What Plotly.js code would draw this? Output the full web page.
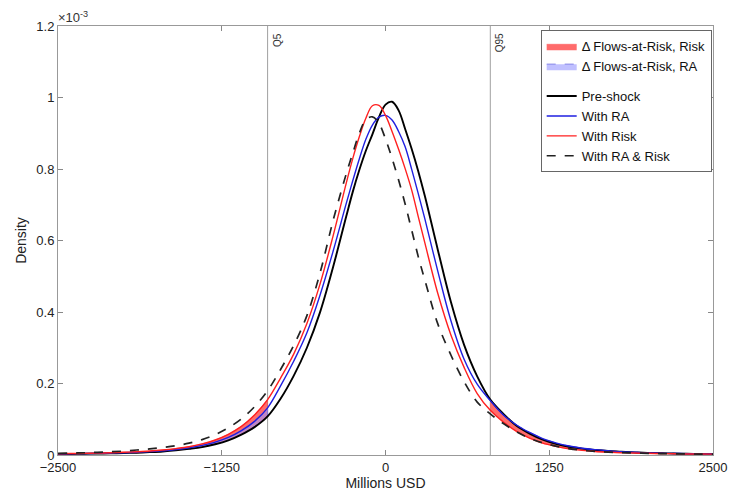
<!DOCTYPE html>
<html>
<head>
<meta charset="utf-8">
<script src="https://cdn.plot.ly/plotly-3.0.1.min.js"></script>
<style>html,body{margin:0;padding:0;background:#fff;}#chart{width:730px;height:502px;}</style>
</head>
<body>
<div id="chart"></div>
<script>
// x grid (Millions USD)
const xVals = [-2500,-2400,-2300,-2200,-2100,-2000,-1900,-1800,-1700,-1600,-1500,-1400,-1300,-1200,-1100,-1000,-900,-800,-700,-600,-500,-400,-300,-250,-200,-150,-100,-50,0,50,100,150,200,250,300,400,500,600,700,800,900,1000,1100,1200,1300,1400,1500,1600,1700,1800,1900,2000,2100,2200,2300,2400,2500];
// densities (x 1e-3)
const preShock = [0.0027,0.003,0.0035,0.004,0.0047,0.0055,0.0065,0.008,0.010,0.013,0.017,0.022,0.030,0.041,0.057,0.078,0.108,0.158,0.222,0.300,0.399,0.526,0.667,0.736,0.797,0.851,0.897,0.945,0.980,0.988,0.964,0.912,0.856,0.794,0.725,0.573,0.427,0.308,0.220,0.155,0.115,0.082,0.060,0.043,0.031,0.023,0.018,0.014,0.011,0.009,0.007,0.006,0.005,0.004,0.0035,0.003,0.0025];
const withRA = [0.003,0.0035,0.004,0.0047,0.0055,0.0065,0.0078,0.0095,0.012,0.015,0.020,0.027,0.036,0.049,0.068,0.094,0.132,0.194,0.263,0.342,0.447,0.570,0.703,0.767,0.828,0.883,0.923,0.945,0.950,0.937,0.905,0.862,0.799,0.731,0.661,0.513,0.375,0.268,0.198,0.152,0.112,0.084,0.063,0.046,0.034,0.025,0.019,0.015,0.012,0.009,0.0075,0.006,0.005,0.0043,0.0037,0.003,0.0027];
const withRisk = [0.0035,0.004,0.0045,0.0053,0.0063,0.0075,0.009,0.011,0.014,0.018,0.023,0.031,0.042,0.058,0.080,0.112,0.155,0.216,0.283,0.368,0.478,0.613,0.760,0.829,0.890,0.942,0.977,0.978,0.950,0.905,0.855,0.801,0.741,0.667,0.594,0.451,0.335,0.245,0.172,0.125,0.092,0.066,0.047,0.033,0.024,0.017,0.013,0.010,0.008,0.0065,0.0055,0.0047,0.004,0.0035,0.003,0.0027,0.0024];
const withRARisk = [0.0045,0.0053,0.0063,0.0075,0.009,0.011,0.014,0.017,0.021,0.026,0.033,0.043,0.057,0.076,0.101,0.135,0.180,0.240,0.307,0.390,0.509,0.656,0.786,0.844,0.900,0.938,0.946,0.928,0.884,0.830,0.769,0.702,0.629,0.555,0.490,0.366,0.279,0.205,0.148,0.115,0.088,0.065,0.047,0.034,0.025,0.018,0.013,0.010,0.008,0.0065,0.0055,0.0047,0.004,0.0035,0.003,0.0027,0.0024];
// quantiles of pre-shock
const quantileX = [-900, 800];
const quantileLabels = ['Q5','Q95'];
const xTicks = [-2500,-1250,0,1250,2500];
const yTicks = [0,0.2,0.4,0.6,0.8,1,1.2];
const yTickText = ['0','0.2','0.4','0.6','0.8','1','1.2'];

function tailPolygon(base, other){
  const px = [], py = [];
  const left = xVals.map((x,i)=>i).filter(i=>xVals[i] <= quantileX[0]);
  const right = xVals.map((x,i)=>i).filter(i=>xVals[i] >= quantileX[1]);
  [left, right].forEach((idx, k)=>{
    if(k>0){px.push(null);py.push(null);}
    idx.forEach(i=>{px.push(xVals[i]);py.push(base[i]);});
    idx.slice().reverse().forEach(i=>{px.push(xVals[i]);py.push(other[i]);});
  });
  return {x:px, y:py};
}
const fillRisk = tailPolygon(preShock, withRisk);
const fillRA = tailPolygon(preShock, withRA);

const sp = {shape:'spline', smoothing:1};
const traces = [
  {x:fillRisk.x, y:fillRisk.y, type:'scatter', mode:'lines', fill:'toself', connectgaps:false,
   fillcolor:'rgba(255,70,70,0.8)', line:{color:'rgba(255,70,70,0.8)', width:0.5},
   name:'Δ Flows-at-Risk, Risk', legendgroup:'f'},
  {x:fillRA.x, y:fillRA.y, type:'scatter', mode:'lines', fill:'toself', connectgaps:false,
   fillcolor:'rgba(150,150,255,0.6)', line:{color:'rgba(120,120,230,0.9)', width:1, dash:'dash'},
   name:'Δ Flows-at-Risk, RA', legendgroup:'f'},
  {x:xVals, y:preShock, type:'scatter', mode:'lines', line:Object.assign({color:'#000000', width:1.9}, sp), name:'Pre-shock', legendgroup:'l'},
  {x:xVals, y:withRA, type:'scatter', mode:'lines', line:Object.assign({color:'#1f1fe0', width:1.4}, sp), name:'With RA', legendgroup:'l'},
  {x:xVals, y:withRisk, type:'scatter', mode:'lines', line:Object.assign({color:'#ff2020', width:1.4}, sp), name:'With Risk', legendgroup:'l'},
  {x:xVals, y:withRARisk, type:'scatter', mode:'lines', line:Object.assign({color:'#222222', width:1.7, dash:'dash'}, sp), name:'With RA & Risk', legendgroup:'l'}
];

const shapes = quantileX.map(q=>({type:'line', xref:'x', yref:'paper', x0:q, x1:q, y0:0, y1:1, line:{color:'#a0a0a0', width:1}, layer:'below'}));
const annotations = quantileX.map((q,i)=>({x:q, y:1, xref:'x', yref:'paper', text:quantileLabels[i], showarrow:false, textangle:-90, xanchor:'left', yanchor:'top', xshift:2, yshift:-5, font:{size:10, color:'#333'}}));
annotations.push({x:0, y:1, xref:'paper', yref:'paper', text:'×10<sup>-3</sup>', showarrow:false, xanchor:'left', yanchor:'bottom', yshift:-1, xshift:-2, font:{size:13, color:'#333'}});

const layout = {
  width:730, height:502,
  margin:{l:58, r:17, t:26, b:47},
  paper_bgcolor:'#fff', plot_bgcolor:'#fff',
  font:{family:'Liberation Sans, Arial, sans-serif', size:12, color:'#222'},
  showlegend:true,
  legend:{x:0.998, y:0.99, xanchor:'right', yanchor:'top', bgcolor:'#fff', bordercolor:'#666', borderwidth:1,
          traceorder:'grouped', tracegroupgap:10, font:{size:13, color:'#111'}, itemwidth:30},
  xaxis:{range:[-2500,2500], tickvals:xTicks, ticks:'inside', ticklen:5, tickcolor:'#888', showline:true, mirror:'ticks', linecolor:'#999', showgrid:false, zeroline:false,
         title:{text:'Millions USD', font:{size:14, color:'#222'}, standoff:4}, tickfont:{size:13, color:'#222'}},
  yaxis:{range:[0,1.2], tickvals:yTicks, ticktext:yTickText, ticks:'inside', ticklen:5, tickcolor:'#888', showline:true, mirror:'ticks', linecolor:'#999', showgrid:false, zeroline:false,
         title:{text:'Density', font:{size:14, color:'#222'}, standoff:6}, tickfont:{size:13, color:'#222'}},
  shapes:shapes, annotations:annotations
};
Plotly.newPlot('chart', traces, layout, {displayModeBar:false, staticPlot:true});
</script>
</body>
</html>
